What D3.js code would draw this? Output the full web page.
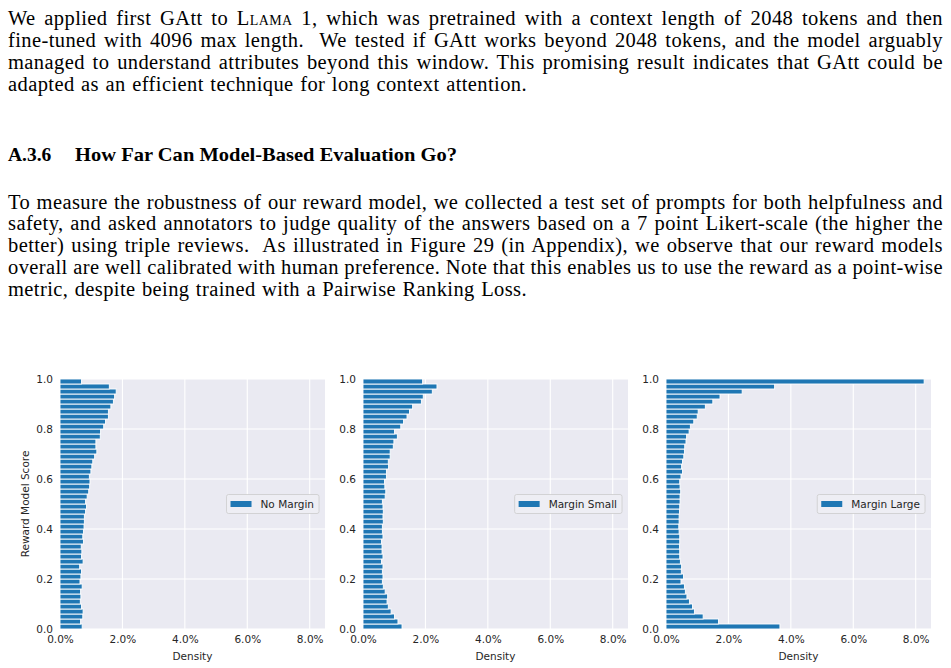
<!DOCTYPE html>
<html>
<head>
<meta charset="utf-8">
<script src="https://cdn.jsdelivr.net/npm/d3@7"></script>
<style>
  body { margin: 0; background: #fff; }
  svg { display: block; }
</style>
</head>
<body>
<svg id="page" width="951" height="668"></svg>
<script>
// paragraph text, one entry per printed line
const para1 = [
    ["We applied first GAtt to ", "Llama 1", ", which was pretrained with a context length of 2048 tokens and then"],
    ["fine-tuned with 4096 max length.  We tested if GAtt works beyond 2048 tokens, and the model arguably"],
    ["managed to understand attributes beyond this window. This promising result indicates that GAtt could be"],
    ["adapted as an efficient technique for long context attention."]
];
const headingNum = "A.3.6";
const headingText = "How Far Can Model-Based Evaluation Go?";
const para2 = [
    ["To measure the robustness of our reward model, we collected a test set of prompts for both helpfulness and"],
    ["safety, and asked annotators to judge quality of the answers based on a 7 point Likert-scale (the higher the"],
    ["better) using triple reviews.  As illustrated in Figure 29 (in Appendix), we observe that our reward models"],
    ["overall are well calibrated with human preference. Note that this enables us to use the reward as a point-wise"],
    ["metric, despite being trained with a Pairwise Ranking Loss."]
];

// histogram bins (lower edge of each 0.02-wide score bin)
const binEdges = [0.00, 0.02, 0.04, 0.06, 0.08, 0.10, 0.12, 0.14, 0.16, 0.18,
                  0.20, 0.22, 0.24, 0.26, 0.28, 0.30, 0.32, 0.34, 0.36, 0.38,
                  0.40, 0.42, 0.44, 0.46, 0.48, 0.50, 0.52, 0.54, 0.56, 0.58,
                  0.60, 0.62, 0.64, 0.66, 0.68, 0.70, 0.72, 0.74, 0.76, 0.78,
                  0.80, 0.82, 0.84, 0.86, 0.88, 0.90, 0.92, 0.94, 0.96, 0.98];

// density in percent, from lowest bin to highest
const noMargin = [0.71, 0.66, 0.73, 0.74, 0.69, 0.65, 0.67, 0.66, 0.71, 0.64,
                  0.67, 0.69, 0.63, 0.74, 0.69, 0.70, 0.68, 0.75, 0.73, 0.75,
                  0.77, 0.78, 0.78, 0.82, 0.85, 0.82, 0.87, 0.92, 0.95, 0.96,
                  0.94, 0.99, 1.02, 1.05, 1.11, 1.18, 1.15, 1.15, 1.29, 1.30,
                  1.40, 1.46, 1.55, 1.55, 1.63, 1.71, 1.75, 1.80, 1.58, 0.69];
const marginSmall = [1.25, 1.12, 1.01, 0.90, 0.81, 0.77, 0.79, 0.71, 0.65, 0.62,
                     0.64, 0.62, 0.64, 0.59, 0.64, 0.61, 0.61, 0.59, 0.64, 0.62,
                     0.62, 0.65, 0.64, 0.65, 0.64, 0.62, 0.71, 0.73, 0.70, 0.69,
                     0.75, 0.75, 0.82, 0.81, 0.87, 0.87, 0.97, 0.99, 1.10, 1.01,
                     1.21, 1.30, 1.41, 1.49, 1.59, 1.87, 1.93, 2.22, 2.37, 1.91];
const marginLarge = [3.65, 1.68, 1.19, 0.91, 0.85, 0.75, 0.67, 0.62, 0.59, 0.48,
                     0.56, 0.49, 0.50, 0.46, 0.44, 0.44, 0.43, 0.44, 0.44, 0.42,
                     0.41, 0.42, 0.42, 0.43, 0.44, 0.45, 0.45, 0.47, 0.45, 0.44,
                     0.48, 0.53, 0.50, 0.53, 0.57, 0.59, 0.60, 0.64, 0.66, 0.74,
                     0.78, 0.89, 1.00, 1.03, 1.26, 1.50, 1.73, 2.44, 3.48, 8.27];

const seriesNames = ["No Margin", "Margin Small", "Margin Large"];
const seriesValues = [noMargin, marginSmall, marginLarge];
const xTicks = [0, 2, 4, 6, 8];
const yTicks = [0, 0.2, 0.4, 0.6, 0.8, 1.0];

const svg = d3.select("#page");
const serif = "'Liberation Serif', 'DejaVu Serif', serif";
const sans = "'DejaVu Sans', sans-serif";

//text block, justified by stretching (or squeezing) the word gaps
function drawLines(lines, baseY, lastWidth) {
    lines.forEach((parts, i) => {
        const t = svg.append("text")
            .attr("x", 8)
            .attr("y", baseY + i * 21.9)
            .attr("font-family", serif)
            .attr("font-size", 20.5)
            .attr("letter-spacing", 0.4)
            .attr("fill", "#000")
            .style("white-space", "pre");
        parts.forEach(p => {
            const ts = t.append("tspan").text(p);
            if (p === "Llama 1") ts.style("font-variant", "small-caps");
        });
        const target = i === lines.length - 1 ? lastWidth : 935;
        const natural = t.node().getComputedTextLength();
        const gaps = parts.join("").split(" ").length - 1;
        t.attr("word-spacing", ((target - natural) / gaps).toFixed(3));
    });
}
drawLines(para1, 25, 519);

svg.append("text")
    .attr("x", 8).attr("y", 161)
    .attr("font-family", serif).attr("font-size", 19.5).attr("font-weight", "bold")
    .text(headingNum);
svg.append("text")
    .attr("x", 75).attr("y", 161)
    .attr("font-family", serif).attr("font-size", 19.5).attr("font-weight", "bold")
    .attr("textLength", 382).attr("lengthAdjust", "spacingAndGlyphs")
    .text(headingText);

drawLines(para2, 208.5, 519);

//histogram panels
const panelLefts = [60, 363, 666];
const panelTop = 379;
const panelW = 265;
const panelH = 250;

const x = d3.scaleLinear().domain([0, 8.49]).range([0, panelW]);
const y = d3.scaleLinear().domain([0, 1]).range([panelH, 0]);

seriesValues.forEach((vals, k) => {
    const g = svg.append("g")
        .attr("transform", `translate(${panelLefts[k]},${panelTop})`);

    g.append("rect")
        .attr("width", panelW).attr("height", panelH)
        .attr("fill", "#EAEAF2");

    //grid
    g.selectAll(".vgrid").data(xTicks).enter().append("line")
        .attr("x1", d => x(d)).attr("x2", d => x(d))
        .attr("y1", 0).attr("y2", panelH)
        .attr("stroke", "#fff").attr("stroke-width", 1.1);
    g.selectAll(".hgrid").data(yTicks).enter().append("line")
        .attr("x1", 0).attr("x2", panelW)
        .attr("y1", d => y(d)).attr("y2", d => y(d))
        .attr("stroke", "#fff").attr("stroke-width", 1.1);

    //bars
    g.selectAll(".bar").data(vals).enter().append("rect")
        .attr("x", x(0))
        .attr("y", (d, i) => y(binEdges[i] + 0.02))
        .attr("width", d => x(d) - x(0))
        .attr("height", (d, i) => y(binEdges[i]) - y(binEdges[i] + 0.02))
        .attr("fill", "#1f77b4")
        .attr("stroke", "#fff")
        .attr("stroke-width", 0.9);

    //axes
    const xAxis = g.append("g")
        .attr("transform", `translate(0,${panelH})`)
        .call(d3.axisBottom(x).tickValues(xTicks).tickSize(0).tickPadding(7)
            .tickFormat(d => d3.format(".1f")(d) + "%"));
    const yAxis = g.append("g")
        .call(d3.axisLeft(y).tickValues(yTicks).tickSize(0).tickPadding(7)
            .tickFormat(d3.format(".1f")));
    [xAxis, yAxis].forEach(a => {
        a.select(".domain").remove();
        a.selectAll("text")
            .attr("font-family", sans)
            .attr("font-size", 10.5)
            .attr("fill", "#262626");
    });

    g.append("text")
        .attr("x", panelW / 2)
        .attr("y", panelH + 31)
        .attr("text-anchor", "middle")
        .attr("font-family", sans).attr("font-size", 10.5).attr("fill", "#262626")
        .text("Density");

    if (k === 0) {
        g.append("text")
            .attr("transform", "rotate(-90)")
            .attr("x", -panelH / 2)
            .attr("y", -31)
            .attr("text-anchor", "middle")
            .attr("font-family", sans).attr("font-size", 10.5).attr("fill", "#262626")
            .text("Reward Model Score");
    }

    //legend, center right
    const lg = g.append("g");
    const box = lg.append("rect")
        .attr("fill", "#EEEEF4").attr("stroke", "#cccccc")
        .attr("stroke-width", 0.8).attr("rx", 2);
    const label = lg.append("text")
        .attr("font-family", sans).attr("font-size", 10.5).attr("fill", "#262626")
        .attr("dy", "0.35em")
        .text(seriesNames[k]);
    const tw = label.node().getComputedTextLength();
    const boxW = 4 + 21 + 9 + tw + 5;
    const boxH = 19;
    const bx = panelW - 6 - boxW;
    const by = panelH / 2 - boxH / 2;
    box.attr("x", bx).attr("y", by).attr("width", boxW).attr("height", boxH);
    lg.append("rect")
        .attr("x", bx + 4).attr("y", panelH / 2 - 3)
        .attr("width", 21).attr("height", 6)
        .attr("fill", "#1f77b4");
    label.attr("x", bx + 34).attr("y", panelH / 2);
});
</script>
</body>
</html>
